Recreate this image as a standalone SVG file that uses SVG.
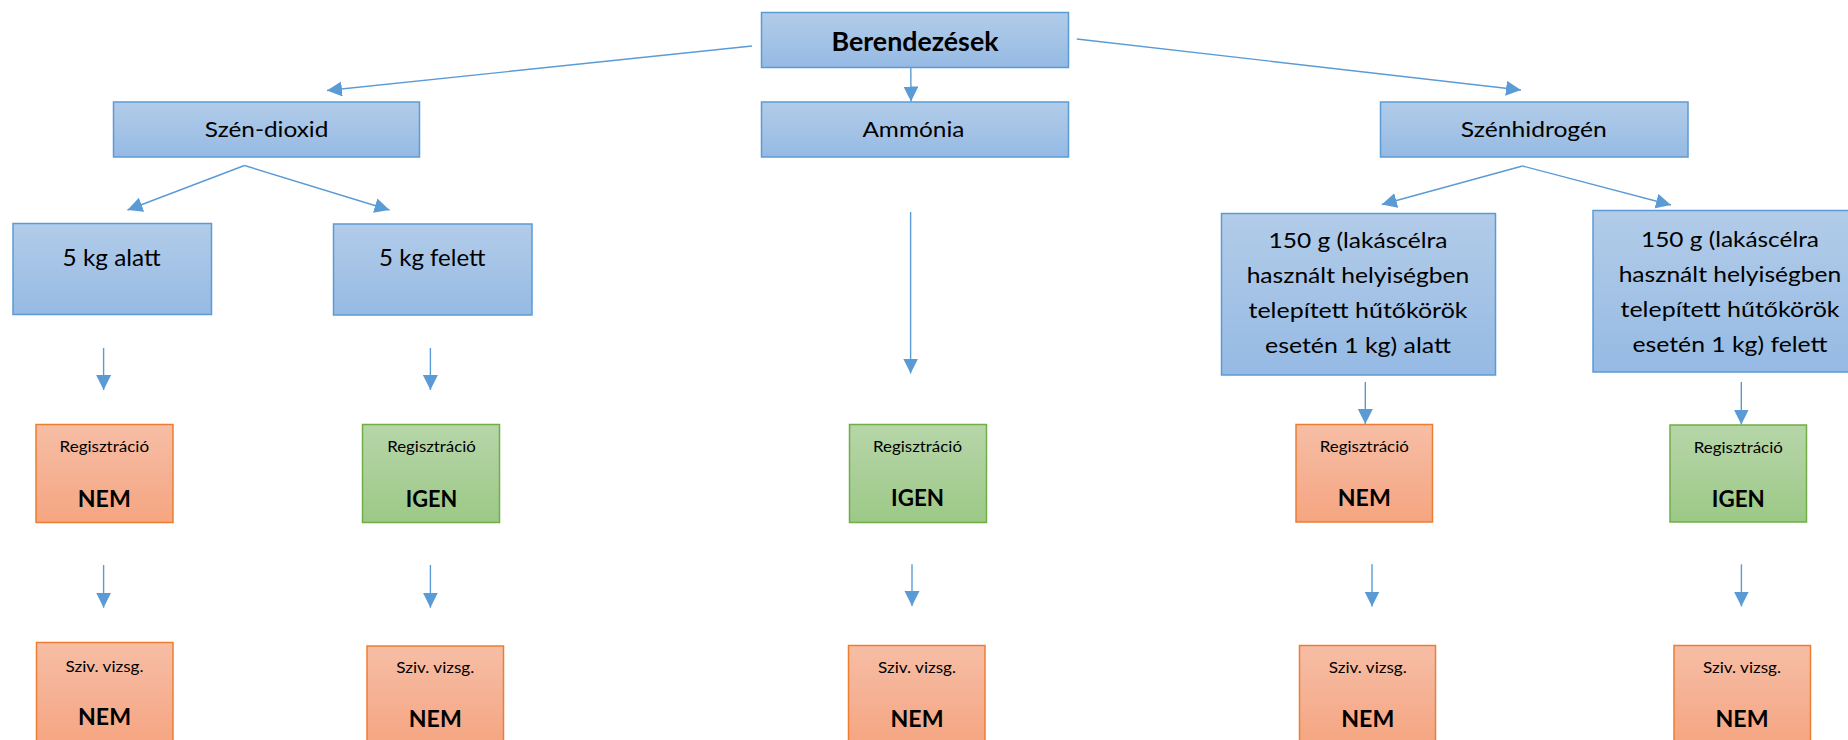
<svg xmlns="http://www.w3.org/2000/svg" width="1848" height="740" viewBox="0 0 1848 740">
<defs>
<linearGradient id="gB" x1="0" y1="0" x2="0" y2="1"><stop offset="0" stop-color="#b2cce9"/><stop offset="0.5" stop-color="#a4c3e6"/><stop offset="1" stop-color="#95bae4"/></linearGradient>
<linearGradient id="gO" x1="0" y1="0" x2="0" y2="1"><stop offset="0" stop-color="#f7bea5"/><stop offset="0.5" stop-color="#f5b194"/><stop offset="1" stop-color="#f6a580"/></linearGradient>
<linearGradient id="gG" x1="0" y1="0" x2="0" y2="1"><stop offset="0" stop-color="#b6d6a8"/><stop offset="0.5" stop-color="#aacf99"/><stop offset="1" stop-color="#9cc986"/></linearGradient>
<marker id="ah" markerUnits="userSpaceOnUse" markerWidth="16" markerHeight="16" viewBox="0 0 16 16" refX="15" refY="7.5" orient="auto"><path d="M0,0 L15,7.5 L0,15 z" fill="#5b9bd5"/></marker>
<style>
.b{fill:url(#gB);stroke:#5b9bd5;stroke-width:1.5}
.o{fill:url(#gO);stroke:#ed7d31;stroke-width:1.5}
.g{fill:url(#gG);stroke:#70ad47;stroke-width:1.5}
.c line{stroke:#5b9bd5;stroke-width:1.4;marker-end:url(#ah)}
text{font-family:Lato,"Liberation Sans",sans-serif;fill:#000;text-anchor:middle}
.t1{font-size:27px;font-weight:bold}
.t2{font-size:21.5px}
.t3{font-size:23.5px}
.t4{font-size:22px}
.s{font-size:15.5px}
.big{font-size:23px;font-weight:bold}
</style>
</defs>

<g id="connectors" class="c">
<line x1="752" y1="46" x2="327" y2="90.5"/>
<line x1="910.8" y1="67.7" x2="911" y2="101.5"/>
<line x1="1076.8" y1="39" x2="1521" y2="90"/>
<line x1="244.5" y1="165.5" x2="127.5" y2="210"/>
<line x1="244.5" y1="165.5" x2="389.5" y2="210"/>
<line x1="1522.5" y1="166" x2="1381.8" y2="204.5"/>
<line x1="1522.5" y1="166" x2="1671" y2="205"/>
<line x1="103.6" y1="348" x2="103.6" y2="390"/>
<line x1="430.4" y1="348" x2="430.4" y2="390"/>
<line x1="910.6" y1="212" x2="910.6" y2="373.5"/>
<line x1="1365.3" y1="382" x2="1365.3" y2="424"/>
<line x1="1741.3" y1="382" x2="1741.3" y2="424.5"/>
<line x1="103.6" y1="565" x2="103.6" y2="607.7"/>
<line x1="430.4" y1="565" x2="430.4" y2="607.7"/>
<line x1="912" y1="564.3" x2="912" y2="606"/>
<line x1="1372" y1="564.3" x2="1372" y2="606.5"/>
<line x1="1741.4" y1="564.3" x2="1741.4" y2="606.5"/>
</g>

<g id="berendezesek"><rect class="b" x="761.5" y="12.5" width="307" height="55"/><text class="t1" x="915" y="50.7" textLength="167" lengthAdjust="spacingAndGlyphs">Berendezések</text></g>
<g id="szen-dioxid"><rect class="b" x="113.5" y="102" width="306" height="55"/><text class="t2" x="266.6" y="137" textLength="123.5" lengthAdjust="spacingAndGlyphs">Szén-dioxid</text></g>
<g id="ammonia"><rect class="b" x="761.5" y="102" width="307" height="55"/><text class="t2" x="913.4" y="137" textLength="102" lengthAdjust="spacingAndGlyphs">Ammónia</text></g>
<g id="szenhidrogen"><rect class="b" x="1380.5" y="102" width="307.5" height="55"/><text class="t2" x="1533.8" y="137" textLength="146" lengthAdjust="spacingAndGlyphs">Szénhidrogén</text></g>

<g id="co2-alatt"><rect class="b" x="13" y="223.5" width="198.5" height="91"/><text class="t3" x="111.6" y="266" textLength="98" lengthAdjust="spacingAndGlyphs">5 kg alatt</text></g>
<g id="co2-felett"><rect class="b" x="333.5" y="224" width="198.5" height="91"/><text class="t3" x="432.3" y="266" textLength="106.4" lengthAdjust="spacingAndGlyphs">5 kg felett</text></g>

<g id="hc-alatt"><rect class="b" x="1221.5" y="213.5" width="274" height="161.5"/>
<text class="t4" x="1358" y="248.3" textLength="179" lengthAdjust="spacingAndGlyphs">150 g (lakáscélra</text>
<text class="t4" x="1358" y="283.3" textLength="222.7" lengthAdjust="spacingAndGlyphs">használt helyiségben</text>
<text class="t4" x="1358" y="318.3" textLength="219" lengthAdjust="spacingAndGlyphs">telepített hűtőkörök</text>
<text class="t4" x="1358" y="353.3" textLength="186" lengthAdjust="spacingAndGlyphs">esetén 1 kg) alatt</text></g>
<g id="hc-felett"><rect class="b" x="1593" y="210.5" width="280" height="161.5"/>
<text class="t4" x="1730" y="246.7" textLength="178" lengthAdjust="spacingAndGlyphs">150 g (lakáscélra</text>
<text class="t4" x="1730" y="281.7" textLength="222.7" lengthAdjust="spacingAndGlyphs">használt helyiségben</text>
<text class="t4" x="1730" y="316.7" textLength="219" lengthAdjust="spacingAndGlyphs">telepített hűtőkörök</text>
<text class="t4" x="1730" y="351.7" textLength="195" lengthAdjust="spacingAndGlyphs">esetén 1 kg) felett</text></g>

<g id="reg1"><rect class="o" x="36" y="424.5" width="137" height="98"/><text class="s" x="104.3" y="451.7" textLength="89.5" lengthAdjust="spacingAndGlyphs">Regisztráció</text><text class="big" x="104.3" y="506.7" textLength="53" lengthAdjust="spacingAndGlyphs">NEM</text></g>
<g id="reg2"><rect class="g" x="362.5" y="424.5" width="137" height="98"/><text class="s" x="431.5" y="451.7" textLength="88.5" lengthAdjust="spacingAndGlyphs">Regisztráció</text><text class="big" x="431.5" y="506.7" textLength="51.5" lengthAdjust="spacingAndGlyphs">IGEN</text></g>
<g id="reg3"><rect class="g" x="849.5" y="424.5" width="137" height="98"/><text class="s" x="917.5" y="451.7" textLength="89" lengthAdjust="spacingAndGlyphs">Regisztráció</text><text class="big" x="917.5" y="506" textLength="53" lengthAdjust="spacingAndGlyphs">IGEN</text></g>
<g id="reg4"><rect class="o" x="1296" y="424.5" width="136.5" height="97.5"/><text class="s" x="1364.3" y="451.7" textLength="89" lengthAdjust="spacingAndGlyphs">Regisztráció</text><text class="big" x="1364.3" y="505.5" textLength="53" lengthAdjust="spacingAndGlyphs">NEM</text></g>
<g id="reg5"><rect class="g" x="1670" y="425" width="136.5" height="97"/><text class="s" x="1738.3" y="452.5" textLength="89" lengthAdjust="spacingAndGlyphs">Regisztráció</text><text class="big" x="1738.3" y="506.5" textLength="53" lengthAdjust="spacingAndGlyphs">IGEN</text></g>

<g id="sziv1"><rect class="o" x="36.5" y="642.5" width="136.5" height="102"/><text class="s" x="104.5" y="671.7" textLength="78" lengthAdjust="spacingAndGlyphs">Sziv. vizsg.</text><text class="big" x="104.5" y="725" textLength="53" lengthAdjust="spacingAndGlyphs">NEM</text></g>
<g id="sziv2"><rect class="o" x="367" y="646" width="136.5" height="100"/><text class="s" x="435.3" y="673.3" textLength="78" lengthAdjust="spacingAndGlyphs">Sziv. vizsg.</text><text class="big" x="435.3" y="726.7" textLength="53" lengthAdjust="spacingAndGlyphs">NEM</text></g>
<g id="sziv3"><rect class="o" x="848.5" y="645.5" width="136.5" height="100"/><text class="s" x="917" y="673.3" textLength="78" lengthAdjust="spacingAndGlyphs">Sziv. vizsg.</text><text class="big" x="917" y="726.7" textLength="53" lengthAdjust="spacingAndGlyphs">NEM</text></g>
<g id="sziv4"><rect class="o" x="1299.5" y="645.5" width="136" height="100"/><text class="s" x="1367.8" y="673.3" textLength="78" lengthAdjust="spacingAndGlyphs">Sziv. vizsg.</text><text class="big" x="1367.8" y="726.7" textLength="53" lengthAdjust="spacingAndGlyphs">NEM</text></g>
<g id="sziv5"><rect class="o" x="1674" y="645.5" width="136.5" height="100"/><text class="s" x="1742" y="673.3" textLength="78" lengthAdjust="spacingAndGlyphs">Sziv. vizsg.</text><text class="big" x="1742" y="726.7" textLength="53" lengthAdjust="spacingAndGlyphs">NEM</text></g>
</svg>
